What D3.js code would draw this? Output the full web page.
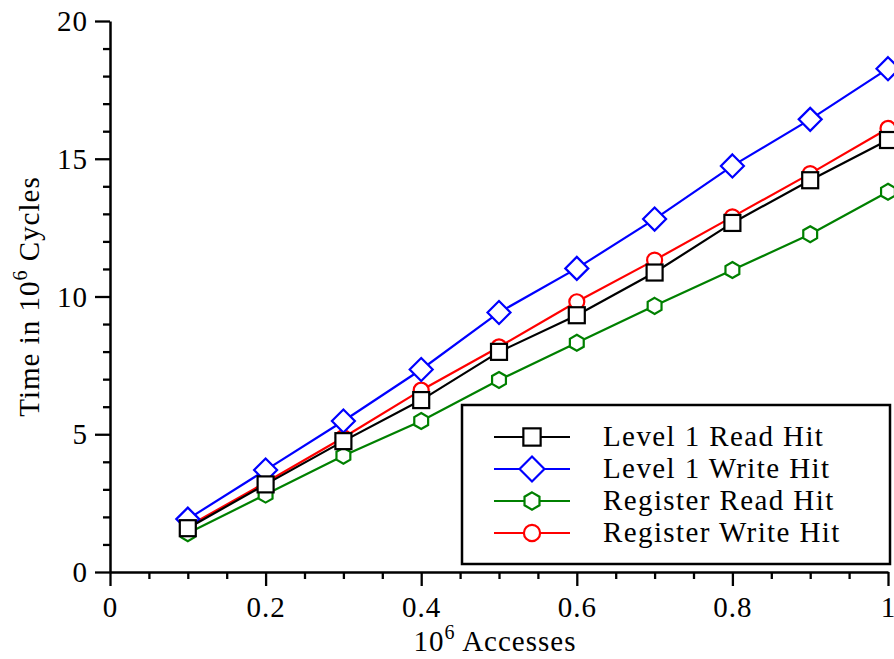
<!DOCTYPE html>
<html>
<head>
<meta charset="utf-8">
<script src="https://cdn.jsdelivr.net/npm/d3@7"></script>
<style>
  body { margin: 0; background: #fff; }
  svg { display: block; font-family: "Liberation Serif", serif; }
</style>
</head>
<body>
<div id="chart"></div>
<script>
// data
let accesses = [0.1, 0.2, 0.3, 0.4, 0.5, 0.6, 0.7, 0.8, 0.9, 1.0];
let l1Read = [1.59, 3.18, 4.75, 6.24, 7.99, 9.32, 10.87, 12.67, 14.22, 15.68];
let l1Write = [1.92, 3.70, 5.48, 7.35, 9.42, 11.02, 12.81, 14.74, 16.43, 18.27];
let regRead = [1.41, 2.81, 4.22, 5.48, 6.97, 8.32, 9.66, 10.96, 12.26, 13.80];
let regWrite = [1.65, 3.25, 4.88, 6.60, 8.17, 9.81, 11.32, 12.89, 14.46, 16.10];
let seriesNames = ['Level 1 Read Hit', 'Level 1 Write Hit', 'Register Read Hit', 'Register Write Hit'];
let xTicks = [0, 0.2, 0.4, 0.6, 0.8, 1];
let yTicks = [0, 5, 10, 15, 20];

let width = 894;
let height = 659;
let margin = { left: 110, right: 6, top: 21, bottom: 87 };

let x = d3.scaleLinear().domain([0, 1]).range([margin.left, width - margin.right]);
let y = d3.scaleLinear().domain([0, 20]).range([height - margin.bottom, margin.top]);

let series = [
  { name: seriesNames[0], values: l1Read, color: '#000000', shape: 'square' },
  { name: seriesNames[1], values: l1Write, color: '#0000ff', shape: 'diamond' },
  { name: seriesNames[2], values: regRead, color: '#008000', shape: 'hexagon' },
  { name: seriesNames[3], values: regWrite, color: '#ff0000', shape: 'circle' }
];

let svg = d3.select('#chart')
  .append('svg')
  .attr('width', width)
  .attr('height', height);

// marker drawing helper
function drawMarker(g, shape, color, cx, cy, big) {
  let s = big ? 1.08 : 1;
  let el;
  if (shape === 'square') {
    let h = 8 * s;
    el = g.append('rect').attr('x', cx - h).attr('y', cy - h).attr('width', 2 * h).attr('height', 2 * h);
  } else if (shape === 'diamond') {
    let h = 11.5 * s;
    el = g.append('path').attr('d', 'M' + cx + ',' + (cy - h) + 'L' + (cx + h) + ',' + cy + 'L' + cx + ',' + (cy + h) + 'L' + (cx - h) + ',' + cy + 'Z');
  } else if (shape === 'hexagon') {
    let r = 8 * s;
    let pts = d3.range(6).map(function(i) {
      let a = Math.PI / 3 * i - Math.PI / 2;
      return [cx + r * Math.cos(a), cy + r * Math.sin(a)];
    });
    el = g.append('path').attr('d', 'M' + pts.join('L') + 'Z');
  } else {
    el = g.append('circle').attr('cx', cx).attr('cy', cy).attr('r', 7.5 * s);
  }
  el.attr('fill', '#fff').attr('stroke', color).attr('stroke-width', 2.2);
}

// minor ticks
let minorX = d3.range(0, 1.0001, 0.05).filter(function(v) { return Math.abs(v * 5 - Math.round(v * 5)) > 1e-6; });
let minorY = d3.range(0, 20.001, 1).filter(function(v) { return v % 5 !== 0; });

svg.append('g')
  .attr('transform', 'translate(0,' + y(0) + ')')
  .call(d3.axisBottom(x).tickValues(minorX).tickSize(7).tickFormat('').tickSizeOuter(0))
  .call(function(g) { g.select('.domain').remove(); });

svg.append('g')
  .attr('transform', 'translate(' + x(0) + ',0)')
  .call(d3.axisLeft(y).tickValues(minorY).tickSize(7).tickFormat('').tickSizeOuter(0))
  .call(function(g) { g.select('.domain').remove(); });

let xAxis = svg.append('g')
  .attr('transform', 'translate(0,' + y(0) + ')')
  .call(d3.axisBottom(x).tickValues(xTicks).tickSize(14).tickSizeOuter(0).tickFormat(d3.format('')));

let yAxis = svg.append('g')
  .attr('transform', 'translate(' + x(0) + ',0)')
  .call(d3.axisLeft(y).tickValues(yTicks).tickSize(15).tickSizeOuter(0));

svg.selectAll('.tick line').attr('stroke', '#000').attr('stroke-width', 2.3);
svg.selectAll('.domain').attr('stroke', '#000').attr('stroke-width', 2.5);

xAxis.selectAll('text')
  .attr('y', 45).attr('dy', 0)
  .attr('font-size', 29).attr('font-family', 'Liberation Serif').attr('fill', '#000')
  .attr('letter-spacing', 1);
yAxis.selectAll('text')
  .attr('x', -22).attr('dy', '0.33em')
  .attr('font-size', 29).attr('font-family', 'Liberation Serif').attr('fill', '#000')
  .attr('letter-spacing', 1);

// axis titles
let xTitle = svg.append('text')
  .attr('x', (x(0) + x(1)) / 2 - 4)
  .attr('y', 651)
  .attr('text-anchor', 'middle')
  .attr('font-size', 29)
  .attr('letter-spacing', 1);
xTitle.append('tspan').text('10');
xTitle.append('tspan').attr('font-size', 20).attr('dy', -12).text('6');
xTitle.append('tspan').attr('dy', 12).text(' Accesses');

let yTitle = svg.append('text')
  .attr('transform', 'translate(39,' + ((y(0) + y(20)) / 2) + ') rotate(-90)')
  .attr('text-anchor', 'middle')
  .attr('font-size', 29)
  .attr('letter-spacing', 1);
yTitle.append('tspan').text('Time in 10');
yTitle.append('tspan').attr('font-size', 20).attr('dy', -12).text('6');
yTitle.append('tspan').attr('dy', 12).text(' Cycles');

// series: drawn in reverse so black ends up on top
let line = d3.line()
  .x(function(d, i) { return x(accesses[i]); })
  .y(function(d) { return y(d); });

series.slice().reverse().forEach(function(s) {
  let g = svg.append('g');
  g.append('path')
    .attr('d', line(s.values))
    .attr('fill', 'none')
    .attr('stroke', s.color)
    .attr('stroke-width', 2.2);
  s.values.forEach(function(v, i) {
    drawMarker(g, s.shape, s.color, x(accesses[i]), y(v), false);
  });
});

// legend
let legend = svg.append('g');
legend.append('rect')
  .attr('x', 462).attr('y', 405)
  .attr('width', 428).attr('height', 159)
  .attr('fill', '#fff')
  .attr('stroke', '#000')
  .attr('stroke-width', 2.5);

series.forEach(function(s, i) {
  let ly = 437 + i * 32;
  legend.append('line')
    .attr('x1', 494).attr('x2', 570)
    .attr('y1', ly).attr('y2', ly)
    .attr('stroke', s.color)
    .attr('stroke-width', 2.2);
  drawMarker(legend, s.shape, s.color, 532, ly, true);
  legend.append('text')
    .attr('x', 603)
    .attr('y', ly + 9)
    .attr('font-size', 29)
    .attr('letter-spacing', 1.4)
    .text(s.name);
});
</script>
</body>
</html>
